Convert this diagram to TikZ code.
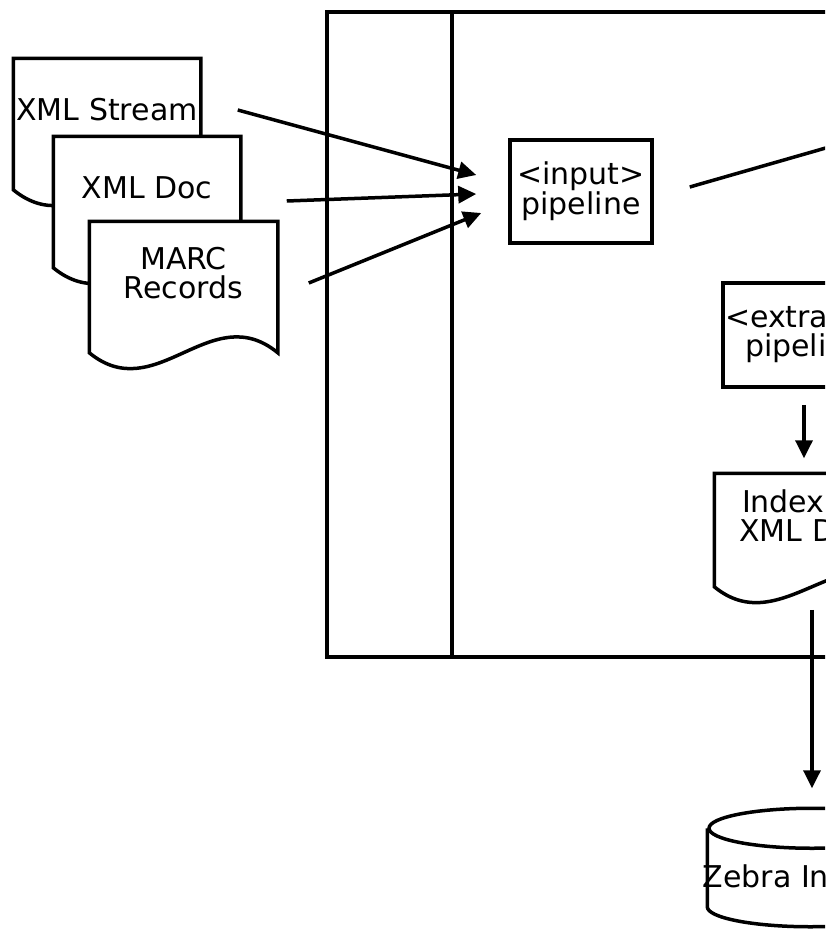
\documentclass[tikz,border=0pt]{standalone}
\usepackage{fontspec}
\setmainfont{DejaVu Sans}
\usetikzlibrary{arrows.meta,calc,backgrounds}
% outline of a document shape drawn round a named node
\newcommand\docshape[1]{%
  \begin{scope}[on background layer]
    \draw[docline] ([shift={(0,28)}]#1.south west) -- (#1.north west) -- (#1.north east)
      -- ([shift={(0,28)}]#1.south east)
      .. controls +(-67,-55) and +(67,55) .. ([shift={(0,28)}]#1.south west) -- cycle;
  \end{scope}}

\begin{document}
\begin{tikzpicture}[
  x=1pt, y=-1pt,
  >={Triangle[length=18pt,width=17pt]},
  line width=3.5pt,
  lbl/.style={font=\fontsize{30}{29}\selectfont},
  doc/.style={lbl, minimum width=184pt, minimum height=100pt, inner sep=0pt, align=center},
  docline/.style={draw, fill=white, line width=3.5pt},
  proc/.style={lbl, draw, inner sep=0pt, align=center},
  flow/.style={->},
]
\useasboundingbox (0,0) rectangle (825,929);
\clip (0,0) rectangle (825,929);

% swimlane frame
\draw (327,12) rectangle (1100,657);
\draw (452,12) -- (452,657);

% input documents
\node[doc] (stream) at (107,110) {XML Stream};
\docshape{stream}
\node[doc] (xmldoc) at (147,188) {XML Doc};
\docshape{xmldoc}
\node[doc, minimum width=185pt] (marc) at (183.5,273) {MARC\\Records};
\docshape{marc}

% pipelines
\node[proc, minimum width=142pt, minimum height=103pt] (input) at (581,191.5) {<input>\\pipeline};
\node[proc, align=left, text width=158pt, inner xsep=2pt, minimum height=104pt] (extract) at (804,335)
  {<extra\\\hspace*{20pt}pipeli};
\node[doc, align=left, text width=146pt, inner xsep=23pt, minimum height=82pt] (index) at (812,516)
  {\hspace*{3pt}Index\\XML D};
\docshape{index}

% zebra index store
\node[minimum width=206pt, minimum height=75pt, inner sep=0pt] (zebra) at (812,867.5) {};
\draw (zebra.north west) -- (zebra.south west)
  arc[start angle=180, end angle=360, x radius=103pt, y radius=20pt] -- (zebra.north east);
\draw (zebra.north) ellipse[x radius=103pt, y radius=20pt];
\node[lbl, anchor=base west, inner sep=0pt] (zebratext) at (701,887) {Zebra In};

\coordinate (storein) at (1000,98);

\draw[flow] ([shift={(37,0)}]stream.east) -- ([shift={(-32,-16.5)}]input.west);
\draw[flow] ([shift={(46,13)}]xmldoc.east) -- ([shift={(-32,2.5)}]input.west);
\draw[flow] ([shift={(31,10)}]marc.east) -- ([shift={(-27,21.5)}]input.west);
\draw[flow] ([shift={(36,-4.5)}]input.east) -- (storein);
\draw[flow] ([shift={(0,16)}]extract.south) -- ($(extract.south |- index.north)+(0,-15)$);
\draw[flow] ([shift={(0,51)}]index.south) -- ([shift={(0,-40)}]zebra.north);
\end{tikzpicture}
\end{document}
